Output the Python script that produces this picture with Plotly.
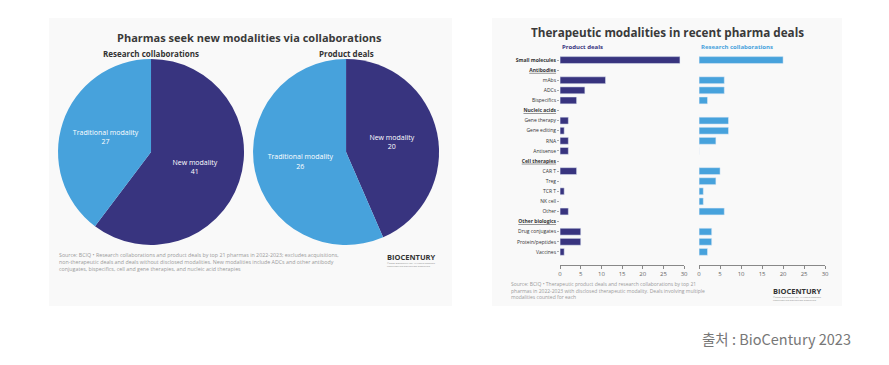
import plotly.graph_objects as go

# ---- data ----
pie_labels = ["New modality", "Traditional modality"]
research_pie = [41, 27]
product_pie = [20, 26]

rows = ["Small molecules", "Antibodies", "mAbs", "ADCs", "Bispecifics",
        "Nucleic acids", "Gene therapy", "Gene editing", "RNA", "Antisense",
        "Cell therapies", "CAR T", "Treg", "TCR T", "NK cell", "Other",
        "Other biologics", "Drug conjugates", "Protein/peptides", "Vaccines"]
headers = ["Antibodies", "Nucleic acids", "Cell therapies", "Other biologics"]
product_deals = [29, None, 11, 6, 4, None, 2, 1, 2, 2, None, 4, 0, 1, 0, 2, None, 5, 5, 1]
research_collabs = [20, None, 6, 6, 2, None, 7, 7, 4, 0, None, 5, 4, 1, 1, 6, None, 3, 3, 2]
x_ticks = [0, 5, 10, 15, 20, 25, 30]

NAVY = "#38347f"
BLUE = "#47a2dc"
FONT = "Open Sans"
W, H = 889, 365
OFF = 8  # page body margin
FW, FH = W - 2 * OFF, H - 2 * OFF
SX = 1 / 0.993  # horizontal correction


def px(x):
    return ((x - OFF) * SX) / FW


def py(y):
    return 1 - (y - OFF) / FH


fig = go.Figure()

# pies
cx1, cx2, cy, r = 149, 344, 152, 93
for vals, cx in [(research_pie, cx1), (product_pie, cx2)]:
    fig.add_trace(go.Pie(
        labels=pie_labels, values=vals, sort=False, direction="clockwise",
        rotation=0, marker=dict(colors=[NAVY, BLUE], line=dict(width=0)),
        texttemplate="%{label}<br>%{value}", textposition="inside",
        insidetextorientation="horizontal",
        textfont=dict(family=FONT, size=7, color="white"),
        domain=dict(x=[px(cx - r), px(cx + r)], y=[py(cy + r), py(cy - r)]),
        showlegend=False, hoverinfo="label+value"))

# bars
tickvals = list(range(len(rows)))
ticktext = [f"<b><u>{c}</u></b>" if c in headers else
            ("<b>Small molecules</b>" if c == "Small molecules" else c) for c in rows]

fig.add_trace(go.Bar(y=tickvals, x=product_deals, orientation="h",
                     marker=dict(color=NAVY), width=0.68,
                     xaxis="x", yaxis="y", showlegend=False))
fig.add_trace(go.Bar(y=tickvals, x=research_collabs, orientation="h",
                     marker=dict(color=BLUE), width=0.68,
                     xaxis="x2", yaxis="y2", showlegend=False))

yrange = [len(rows) - 0.5 + 0.8, -0.5]
ydom = [py(265), py(55)]
xax = dict(range=[0, 30], tickvals=x_ticks, ticks="outside", ticklen=3,
           tickcolor="#888", showline=True, linecolor="#888", linewidth=1,
           showgrid=False, zeroline=False,
           tickfont=dict(family=FONT, size=6, color="#666"))
fig.update_layout(
    xaxis=dict(domain=[px(558), px(682)], anchor="y", **xax),
    xaxis2=dict(domain=[px(697), px(823)], anchor="y2", **xax),
    yaxis=dict(domain=ydom, range=yrange, tickvals=tickvals, ticktext=ticktext,
               showgrid=False, zeroline=False, showline=False, ticks="outside",
               ticklen=2, tickcolor="#aaa",
               tickfont=dict(family=FONT, size=5, color="#333"), anchor="x"),
    yaxis2=dict(domain=ydom, range=yrange, showticklabels=False, showgrid=False,
                zeroline=False, showline=False, anchor="x2"),
)

# panel backgrounds
shapes = [
    dict(type="rect", xref="paper", yref="paper", x0=px(47), x1=px(450),
         y0=py(306), y1=py(18), fillcolor="#f9f9f9", line=dict(width=0), layer="below"),
    dict(type="rect", xref="paper", yref="paper", x0=px(490), x1=px(840),
         y0=py(306), y1=py(18), fillcolor="#f9f9f9", line=dict(width=0), layer="below"),
]

ann = []


def add_text(x, y, text, size, color="#333", xanchor="center", bold=False, family=FONT):
    t = f"<b>{text}</b>" if bold else text
    ann.append(dict(x=px(x), y=py(y), xref="paper", yref="paper", text=t,
                    showarrow=False, xanchor=xanchor, yanchor="middle",
                    font=dict(family=family, size=size, color=color), align="left"))


add_text(247, 37, "Pharmas seek new modalities via collaborations", 11, "#3a3a3a", bold=True)
add_text(149, 54, "Research collaborations", 8, "#333", bold=True)
add_text(344, 54, "Product deals", 8, "#333", bold=True)
add_text(55, 262, "Source: BCIQ • Research collaborations and product deals by top 21 pharmas in 2022-2023; excludes acquisitions,<br>"
         "non-therapeutic deals and deals without disclosed modalities. New modalities include ADCs and other antibody<br>"
         "conjugates, bispecifics, cell and gene therapies, and nucleic acid therapies", 5.3, "#9a9a9a", xanchor="left")
add_text(436, 257, "BIOCENTURY", 7.5, "#333", xanchor="right", bold=True)
add_text(436, 264, "©2023 BioCentury Inc. All rights reserved.<br>Unauthorized distribution prohibited", 2.5, "#888", xanchor="right")

add_text(665, 32, "Therapeutic modalities in recent pharma deals", 11.7, "#3a3a3a", bold=True)
add_text(558, 47, "Product deals", 6, NAVY, xanchor="left", bold=True)
add_text(697, 47, "Research collaborations", 6, BLUE, xanchor="left", bold=True)
add_text(507, 290, "Source: BCIQ • Therapeutic product deals and research collaborations by top 21<br>"
         "pharmas in 2022-2023 with disclosed therapeutic modality. Deals involving multiple<br>"
         "modalities counted for each", 5, "#9a9a9a", xanchor="left")
add_text(822, 291, "BIOCENTURY", 7.5, "#333", xanchor="right", bold=True)
add_text(822, 298, "©2023 BioCentury Inc. All rights reserved.<br>Unauthorized distribution prohibited", 2.5, "#888", xanchor="right")

add_text(851, 338, "출처 : BioCentury 2023", 14.5, "#777", xanchor="right", family="Noto Sans CJK KR")

fig.update_layout(width=FW, height=FH, margin=dict(l=0, r=0, t=0, b=0),
                  paper_bgcolor="white", plot_bgcolor="rgba(0,0,0,0)",
                  shapes=shapes, annotations=ann, bargap=0.3)

fig.write_html("out.html")
